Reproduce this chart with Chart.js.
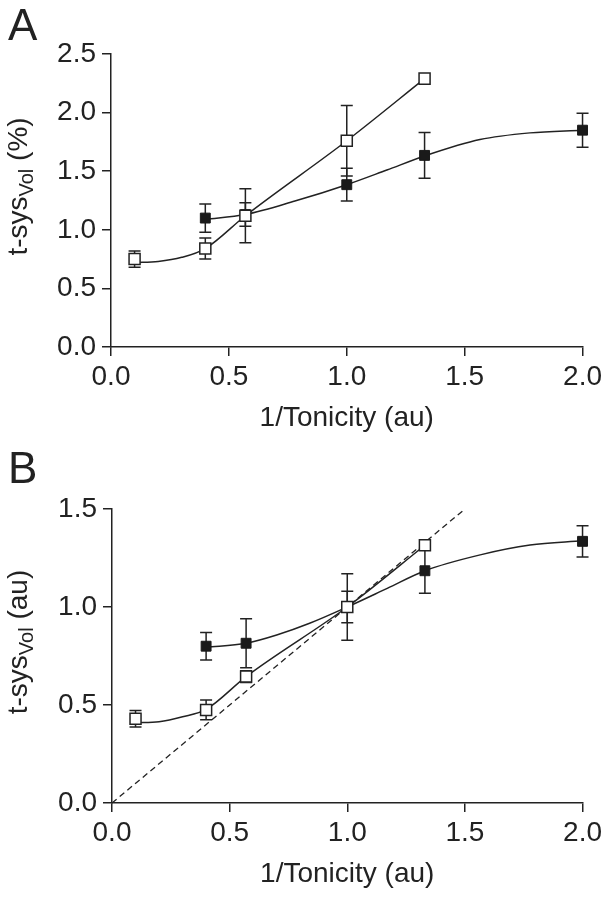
<!DOCTYPE html>
<html>
<head>
<meta charset="utf-8">
<script src="https://cdn.jsdelivr.net/npm/chart.js@4.4.0/dist/chart.umd.min.js"></script>
<style>
  html, body { margin: 0; padding: 0; background: #fff; }
  canvas { display: block; }
</style>
</head>
<body>
<canvas id="chartA" width="606" height="450"></canvas>
<canvas id="chartB" width="606" height="450"></canvas>
<script>
// 1/Tonicity values of the measurements
const xFilled = [0.4, 0.57, 1.0, 1.33, 2.0];
const xOpen = [0.1, 0.4, 0.57, 1.0, 1.33];

// tick labels
const xTicks = [0, 0.5, 1.0, 1.5, 2.0];
const aYTicks = [0, 0.5, 1.0, 1.5, 2.0, 2.5];
const bYTicks = [0, 0.5, 1.0, 1.5];

// panel A : t-sysVol (%)
const aFilled = [1.10, 1.13, 1.385, 1.635, 1.85];
const aFilledErr = [0.12, 0.10, 0.14, 0.195, 0.145];
const aOpen = [0.75, 0.84, 1.12, 1.76, 2.29];
const aOpenErr = [0.07, 0.09, 0.23, 0.30, 0];
// fitted curves
const aFilledFitX = [0.4, 0.57, 0.78, 1.0, 1.17, 1.33, 1.565, 1.777, 2.0];
const aFilledFitY = [1.09, 1.13, 1.245, 1.385, 1.51, 1.63, 1.77, 1.827, 1.85];
const aOpenFitX = [0.1, 0.2, 0.3, 0.4, 0.57, 1.0, 1.33];
const aOpenFitY = [0.72, 0.73, 0.765, 0.84, 1.12, 1.76, 2.29];

// panel B : t-sysVol (au)
const bFilled = [0.80, 0.815, 1.0, 1.185, 1.335];
const bFilledErr = [0.07, 0.125, 0.17, 0.115, 0.08];
const bOpen = [0.43, 0.475, 0.645, 1.0, 1.315];
const bOpenErr = [0.042, 0.05, 0.03, 0.08, 0];
const bFilledFitX = [0.4, 0.57, 0.7, 0.84, 1.0, 1.17, 1.33, 1.565, 1.777, 2.0];
const bFilledFitY = [0.795, 0.815, 0.857, 0.917, 1.0, 1.095, 1.185, 1.266, 1.316, 1.338];
const bOpenFitX = [0.1, 0.2, 0.3, 0.4, 0.57, 1.0, 1.33];
const bOpenFitY = [0.41, 0.415, 0.44, 0.478, 0.645, 1.0, 1.315];
// line of identity
const unityX = [0, 1.5];
const unityY = [0, 1.5];

const FONT = "'Liberation Sans', Arial, sans-serif";
const INK = '#222';

function pts(xs, ys) {
    return xs.map((x, i) => ({ x: x, y: ys[i] }));
}

// error bars, panel letter and axis titles
const decor = {
    id: 'decor',
    beforeDatasetsDraw(chart, args, o) {
        const ctx = chart.ctx;
        const x = chart.scales.x, y = chart.scales.y;
        ctx.save();
        ctx.strokeStyle = INK;
        ctx.lineWidth = 1.5;
        o.bars.forEach(b => {
            b.xs.forEach((xv, i) => {
                const e = b.err[i];
                if (!e) return;
                const px = x.getPixelForValue(xv);
                const top = y.getPixelForValue(b.ys[i] + e);
                const bot = y.getPixelForValue(b.ys[i] - e);
                ctx.beginPath();
                ctx.moveTo(px, top); ctx.lineTo(px, bot);
                ctx.moveTo(px - 6, top); ctx.lineTo(px + 6, top);
                ctx.moveTo(px - 6, bot); ctx.lineTo(px + 6, bot);
                ctx.stroke();
            });
        });
        ctx.restore();
    },
    afterDraw(chart, args, o) {
        const ctx = chart.ctx;
        const area = chart.chartArea;
        ctx.save();
        ctx.fillStyle = INK;

        // panel letter
        ctx.font = '44px ' + FONT;
        ctx.textBaseline = 'alphabetic';
        ctx.textAlign = 'left';
        ctx.fillText(o.letter, 8, o.letterY);

        // x title
        ctx.font = '28px ' + FONT;
        ctx.textAlign = 'center';
        ctx.textBaseline = 'middle';
        ctx.fillText('1/Tonicity (au)', (area.left + area.right) / 2, area.bottom + 71);

        // y title with subscript
        const big = '28px ' + FONT, small = '20px ' + FONT;
        ctx.font = big;
        const w1 = ctx.measureText('t-sys').width;
        const w3 = ctx.measureText(o.unit).width;
        ctx.font = small;
        const w2 = ctx.measureText('Vol').width;
        const total = w1 + w2 + w3;
        ctx.translate(27, (area.top + area.bottom) / 2 - 14);
        ctx.rotate(-Math.PI / 2);
        ctx.textAlign = 'left';
        ctx.textBaseline = 'alphabetic';
        let cx = -total / 2;
        ctx.font = big;
        ctx.fillText('t-sys', cx, 0);
        cx += w1;
        ctx.font = small;
        ctx.fillText('Vol', cx, 6);
        cx += w2;
        ctx.font = big;
        ctx.fillText(o.unit, cx, 0);
        ctx.restore();
    }
};

function makePanel(id, p) {
    const tickFont = { family: FONT, size: 28 };
    new Chart(document.getElementById(id), {
        type: 'line',
        data: {
            datasets: [
                {
                    data: pts(xOpen, p.open), showLine: false,
                    pointStyle: 'rect', pointRadius: 7.8,
                    pointBackgroundColor: '#fff', pointBorderColor: INK, pointBorderWidth: 1.5,
                    clip: false
                },
                {
                    data: pts(xFilled, p.filled), showLine: false,
                    pointStyle: 'rect', pointRadius: 7,
                    pointBackgroundColor: '#1a1a1a', pointBorderColor: '#1a1a1a', pointBorderWidth: 1,
                    clip: false
                },
                {
                    data: pts(p.openFitX, p.openFitY), pointRadius: 0,
                    borderColor: INK, borderWidth: 1.5, cubicInterpolationMode: 'monotone', clip: false
                },
                {
                    data: pts(p.filledFitX, p.filledFitY), pointRadius: 0,
                    borderColor: INK, borderWidth: 1.5, cubicInterpolationMode: 'monotone', clip: false
                }
            ].concat(p.extra || [])
        },
        options: {
            responsive: false,
            animation: false,
            events: [],
            layout: { padding: { left: 0, right: 23, top: p.top, bottom: 0 } },
            plugins: {
                legend: { display: false },
                tooltip: { enabled: false },
                decor: {
                    letter: p.letter, letterY: p.letterY, unit: p.unit,
                    bars: [
                        { xs: xFilled, ys: p.filled, err: p.filledErr },
                        { xs: xOpen, ys: p.open, err: p.openErr }
                    ]
                }
            },
            scales: {
                x: {
                    type: 'linear', min: 0, max: 2,
                    afterFit: s => { s.height = p.xHeight; },
                    afterBuildTicks: s => { s.ticks = xTicks.map(v => ({ value: v })); },
                    grid: { drawOnChartArea: false, drawTicks: true, tickLength: 9, color: INK, lineWidth: 1.5 },
                    border: { display: true, color: INK, width: 1.5 },
                    ticks: { font: tickFont, color: INK, padding: 4, maxRotation: 0, callback: v => v.toFixed(1) }
                },
                y: {
                    type: 'linear', min: 0, max: p.yMax,
                    afterFit: s => { s.width = p.yWidth; },
                    afterBuildTicks: s => { s.ticks = p.yTicks.map(v => ({ value: v })); },
                    grid: { drawOnChartArea: false, drawTicks: true, tickLength: 9, color: INK, lineWidth: 1.5 },
                    border: { display: true, color: INK, width: 1.5 },
                    ticks: { font: tickFont, color: INK, padding: 6, callback: v => v.toFixed(1) }
                }
            }
        },
        plugins: [decor]
    });
}

makePanel('chartA', {
    letter: 'A', letterY: 40, unit: ' (%)',
    top: 54, xHeight: 103, yWidth: 111, yMax: 2.5, yTicks: aYTicks,
    filled: aFilled, filledErr: aFilledErr, open: aOpen, openErr: aOpenErr,
    filledFitX: aFilledFitX, filledFitY: aFilledFitY, openFitX: aOpenFitX, openFitY: aOpenFitY
});

makePanel('chartB', {
    letter: 'B', letterY: 33, unit: ' (au)',
    top: 59, xHeight: 97, yWidth: 112, yMax: 1.5, yTicks: bYTicks,
    filled: bFilled, filledErr: bFilledErr, open: bOpen, openErr: bOpenErr,
    filledFitX: bFilledFitX, filledFitY: bFilledFitY, openFitX: bOpenFitX, openFitY: bOpenFitY,
    extra: [{
        data: pts(unityX, unityY), pointRadius: 0,
        borderColor: INK, borderWidth: 1.3, borderDash: [6, 4], clip: false
    }]
});
</script>
</body>
</html>
